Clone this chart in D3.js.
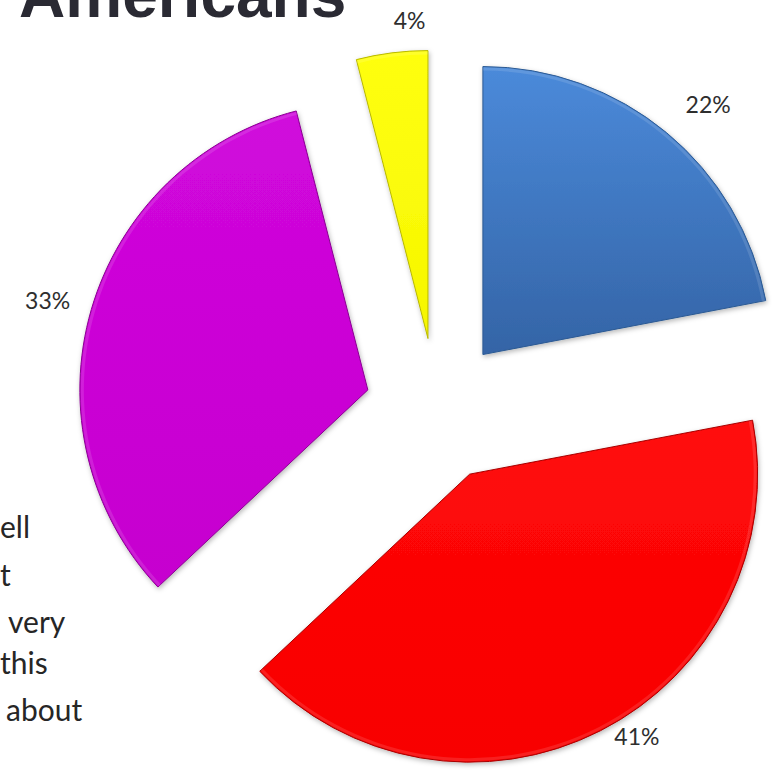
<!DOCTYPE html>
<html>
<head>
<meta charset="utf-8">
<script src="https://cdn.jsdelivr.net/npm/d3@7/dist/d3.min.js"></script>
<style>
  html, body { margin: 0; padding: 0; background: #ffffff; }
  svg { display: block; }
</style>
</head>
<body>
<script>
// Survey shares, drawn clockwise from 12 o'clock
const categories = ["Blue group", "Red group", "Magenta group", "Yellow group"];
const values = [22, 41, 33, 4];
const valueLabels = ["22%", "41%", "33%", "4%"];
const legendFragments = ["ell", "t", "very", "this", "about"];
const titleText = "Americans";

// Layout
const W = 775, H = 775;
const cx = 437, cy = 410;
const radius = 288;
const explode = 72;
const labelRadius = 322;
// per-slice label nudges [dx, dy]
const labelNudge = [[20, -2], [21, -25], [-11, 0], [22, 1]];
const legendLayout = [[0, 538], [0, 586], [8, 633], [0, 674], [6, 721]];

const palette = [
  { top: "#4b8ada", bottom: "#3464a6", edge: "#2c5a93" },
  { top: "#ff0a0a", bottom: "#f80000", edge: "#a80000" },
  { top: "#d008dc", bottom: "#c600cf", edge: "#8a0092" },
  { top: "#ffff10", bottom: "#f6f600", edge: "#b8b800" }
];

const svg = d3.select("body").append("svg")
  .attr("width", W).attr("height", H);

const defs = svg.append("defs");

const shadow = defs.append("filter").attr("id", "soft")
  .attr("x", "-10%").attr("y", "-10%").attr("width", "120%").attr("height", "120%");
shadow.append("feDropShadow")
  .attr("dx", 1).attr("dy", 2).attr("stdDeviation", 2.5)
  .attr("flood-color", "#000").attr("flood-opacity", 0.28);

palette.forEach((p, i) => {
  const g = defs.append("linearGradient").attr("id", "grad" + i)
    .attr("x1", 0).attr("y1", 0).attr("x2", 0).attr("y2", 1);
  g.append("stop").attr("offset", "0%").attr("stop-color", p.top);
  g.append("stop").attr("offset", "100%").attr("stop-color", p.bottom);
});

const pie = d3.pie().sort(null).value(d => d).startAngle(0).endAngle(2 * Math.PI);
const arcs = pie(values);
const arc = d3.arc().innerRadius(0).outerRadius(radius);

function offsetFor(a) {
  const mid = (a.startAngle + a.endAngle) / 2;
  return [Math.sin(mid) * explode, -Math.cos(mid) * explode];
}

const slices = svg.append("g").attr("transform", `translate(${cx},${cy})`);

slices.selectAll("path.slice")
  .data(arcs)
  .join("path")
  .attr("class", "slice")
  .attr("transform", d => { const o = offsetFor(d); return `translate(${o[0]},${o[1]})`; })
  .attr("d", arc)
  .attr("fill", (d, i) => `url(#grad${i})`)
  .attr("stroke", (d, i) => palette[i].edge)
  .attr("stroke-width", 1)
  .attr("stroke-linejoin", "round")
  .attr("filter", "url(#soft)");

// light bevel along the rim
slices.selectAll("path.bevel")
  .data(arcs)
  .join("path")
  .attr("class", "bevel")
  .attr("transform", d => { const o = offsetFor(d); return `translate(${o[0]},${o[1]})`; })
  .attr("d", d3.arc().innerRadius(radius - 4).outerRadius(radius - 1))
  .attr("fill", "#ffffff")
  .attr("opacity", 0.12);

// value labels
slices.selectAll("text.val")
  .data(arcs)
  .join("text")
  .attr("class", "val")
  .attr("x", (d, i) => {
    const mid = (d.startAngle + d.endAngle) / 2;
    return Math.sin(mid) * (explode + labelRadius) + labelNudge[i][0];
  })
  .attr("y", (d, i) => {
    const mid = (d.startAngle + d.endAngle) / 2;
    return -Math.cos(mid) * (explode + labelRadius) + labelNudge[i][1];
  })
  .attr("text-anchor", "middle")
  .attr("dominant-baseline", "central")
  .attr("font-family", "Lato, 'Open Sans', sans-serif")
  .attr("font-size", 23)
  .attr("fill", "#2e2e2e")
  .text((d, i) => valueLabels[i]);

// title
svg.append("text")
  .attr("x", 19).attr("y", 17)
  .attr("font-family", "'Liberation Sans', Arial, sans-serif")
  .attr("font-weight", "bold")
  .attr("font-size", 64)
  .attr("fill", "#2a2a33")
  .text(titleText);

// legend text
svg.append("g").selectAll("text")
  .data(legendFragments)
  .join("text")
  .attr("x", (d, i) => legendLayout[i][0])
  .attr("y", (d, i) => legendLayout[i][1])
  .attr("font-family", "Lato, 'Open Sans', sans-serif")
  .attr("font-size", 30)
  .attr("fill", "#262626")
  .text(d => d);
</script>
</body>
</html>
